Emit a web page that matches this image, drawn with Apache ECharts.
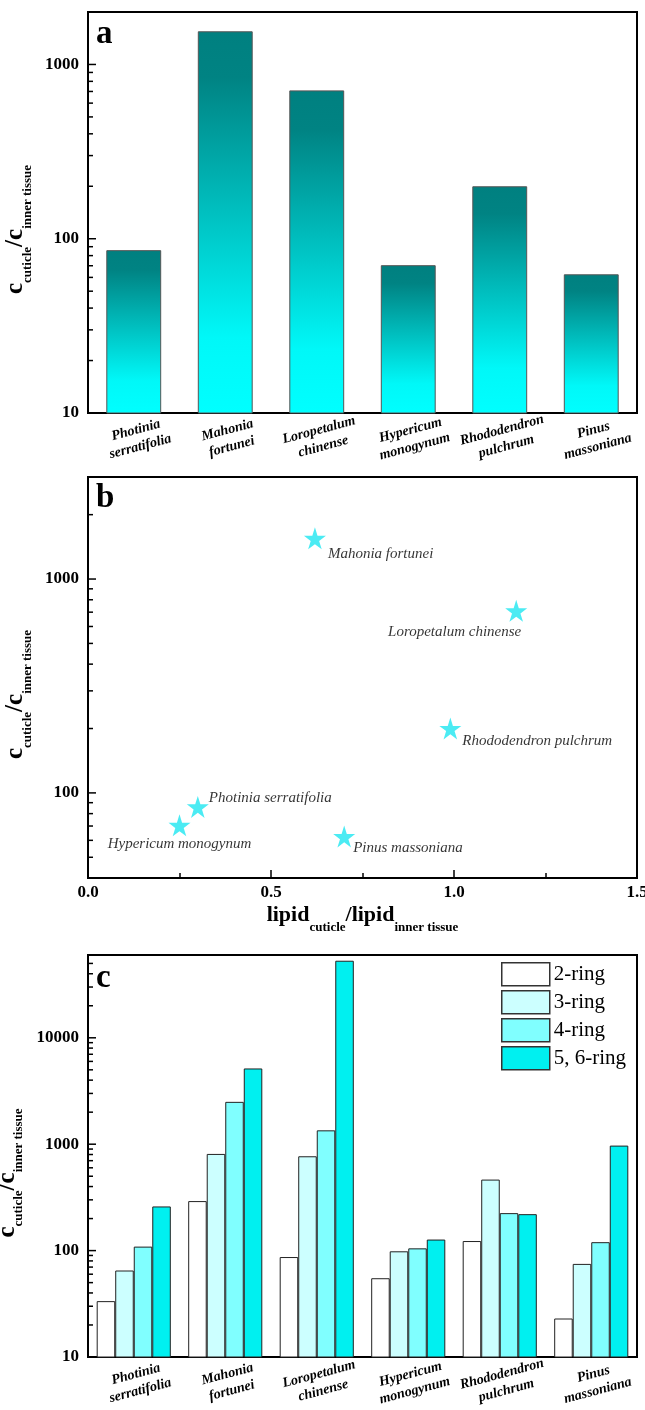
<!DOCTYPE html>
<html><head><meta charset="utf-8">
<script src="https://cdn.jsdelivr.net/npm/echarts@6/dist/echarts.min.js"></script>
<style>html,body{margin:0;padding:0;background:#fff}#c{width:645px;height:1410px}</style>
</head><body><div id="c"></div>
<script>
// ---------- data ----------
const species = ['Photinia serratifolia', 'Mahonia fortunei', 'Loropetalum chinense', 'Hypericum monogynum', 'Rhododendron pulchrum', 'Pinus massoniana'];
const categoryLabels = ['Photinia\nserratifolia', 'Mahonia\nfortunei', 'Loropetalum\nchinense', 'Hypericum\nmonogynum', 'Rhododendron\npulchrum', 'Pinus\nmassoniana'];
const ratioCuticleInner = [86, 1550, 710, 70.5, 200, 62.5];
const lipidRatio = [0.30, 0.62, 1.17, 0.25, 0.99, 0.70];
const ringNames = ['2-ring', '3-ring', '4-ring', '5, 6-ring'];
const ring2 = [33.5, 292, 87, 55, 123, 23];
const ring3 = [65, 810, 770, 98.5, 465, 75];
const ring4 = [109, 2500, 1350, 105, 225, 120];
const ring56 = [260, 5150, 53000, 127, 220, 970];
const majorTicksA = [10, 100, 1000];
const minorTicksA = [20, 30, 40, 50, 60, 70, 80, 90, 200, 300, 400, 500, 600, 700, 800, 900, 2000];
const majorTicksB = [100, 1000];
const minorTicksB = [50, 60, 70, 80, 90, 200, 300, 400, 500, 600, 700, 800, 900, 2000];
const majorTicksC = [10, 100, 1000, 10000];
const minorTicksC = [20, 30, 40, 50, 60, 70, 80, 90, 200, 300, 400, 500, 600, 700, 800, 900,
  2000, 3000, 4000, 5000, 6000, 7000, 8000, 9000, 20000, 30000, 40000, 50000];
const panelLetters = ['a', 'b', 'c'];

// ---------- style / layout ----------
const FONT = 'Liberation Serif';
const ringColors = ['#ffffff', '#ccffff', '#80ffff', '#00f0f0'];
const labelPlacement = [
  { align: 'left', offset: [11, -9] },
  { align: 'left', offset: [13, 16] },
  { align: 'right', offset: [5, 21] },
  { align: 'center', offset: [0, 19] },
  { align: 'left', offset: [12, 13] },
  { align: 'left', offset: [9, 12] }
];
const starPath = 'path://M50,0 L61.2,34.5 L97.6,34.5 L68.2,55.9 L79.4,90.5 L50,69.1 L20.6,90.5 L31.8,55.9 L2.4,34.5 L38.8,34.5 Z';

const powTen = v => { const l = Math.log10(v); return Math.abs(l - Math.round(l)) < 1e-6 ? String(Math.round(Math.pow(10, Math.round(l)))) : ''; };

const subRich = {
  m: { fontFamily: FONT, fontWeight: 'bold', fontSize: 25, lineHeight: 26, verticalAlign: 'top', color: '#000' },
  s: { fontFamily: FONT, fontWeight: 'bold', fontSize: 13, lineHeight: 13, padding: [18, 0, 0, 0], verticalAlign: 'top', color: '#000' }
};
const yName = '{m|c}{s|cuticle}{m|/c}{s|inner tissue}';

const gridBase = { left: 88, right: 8, show: true, borderColor: '#000', borderWidth: 2, backgroundColor: 'transparent', containLabel: false, outerBoundsMode: 'none' };

function yAxisCfg(idx, min, max, gap) {
  return {
    type: 'log', logBase: 10, gridIndex: idx, min: min, max: max,
    axisLine: { show: true, lineStyle: { color: '#000', width: 2 } },
    axisTick: { show: false }, splitLine: { show: false }, minorTick: { show: false },
    axisLabel: { formatter: powTen, fontFamily: FONT, fontWeight: 'bold', fontSize: 17, color: '#000', margin: 9 },
    name: yName, nameLocation: 'middle', nameGap: gap,
    nameTextStyle: { rich: subRich, padding: [0, 34, 0, 0] }
  };
}
function catAxisCfg(idx) {
  return {
    type: 'category', gridIndex: idx, data: categoryLabels,
    axisLine: { show: true, lineStyle: { color: '#000', width: 2 } },
    axisTick: { show: false },
    axisLabel: { interval: 0, rotate: 15, align: 'center', verticalAlign: 'top', margin: 9,
      fontFamily: FONT, fontStyle: 'italic', fontWeight: 'bold', fontSize: 14, lineHeight: 17, color: '#000' }
  };
}
function tickSeries(idx, values, len) {
  return {
    type: 'custom', xAxisIndex: idx, yAxisIndex: idx, silent: true, z: 5,
    data: values.map(v => [0, v]),
    renderItem: (params, api) => {
      const y = api.coord([api.value(0), api.value(1)])[1];
      const x0 = params.coordSys.x;
      return { type: 'line', shape: { x1: x0, y1: y, x2: x0 + len, y2: y }, style: { stroke: '#000', lineWidth: 1.5 } };
    }
  };
}

const chart = echarts.init(document.getElementById('c'), null, { renderer: 'canvas' });
chart.setOption({
  animation: false,
  backgroundColor: '#fff',
  graphic: [
    { type: 'text', left: 96, top: 18, style: { text: panelLetters[0], font: 'bold 33px "Liberation Serif"', fill: '#000' } },
    { type: 'text', left: 96, top: 482, style: { text: panelLetters[1], font: 'bold 33px "Liberation Serif"', fill: '#000' } },
    { type: 'text', left: 96, top: 962, style: { text: panelLetters[2], font: 'bold 33px "Liberation Serif"', fill: '#000' } }
  ],
  grid: [
    Object.assign({}, gridBase, { top: 12, height: 401 }),
    Object.assign({}, gridBase, { top: 477, height: 401 }),
    Object.assign({}, gridBase, { top: 955, height: 402 })
  ],
  legend: {
    data: ringNames, orient: 'vertical', left: 501, top: 962, padding: 0,
    itemWidth: 48, itemHeight: 23, itemGap: 3.5, icon: 'rect',
    itemStyle: { borderColor: '#333', borderWidth: 1.5 },
    textStyle: { fontFamily: FONT, fontSize: 21, color: '#000', padding: [0, 0, 0, -1] },
    selectedMode: false
  },
  xAxis: [
    catAxisCfg(0),
    {
      type: 'value', gridIndex: 1, min: 0, max: 1.5, interval: 0.5,
      axisLine: { show: true, lineStyle: { color: '#000', width: 2 } },
      axisTick: { show: true, inside: true, length: 8, lineStyle: { color: '#000', width: 1.5 } },
      minorTick: { show: true, splitNumber: 2, length: 5, lineStyle: { color: '#000', width: 1.5 } },
      splitLine: { show: false },
      axisLabel: { formatter: v => v.toFixed(1), fontFamily: FONT, fontWeight: 'bold', fontSize: 17, color: '#000', margin: 6 },
      name: '{m|lipid}{s|cuticle}{m|/lipid}{s|inner tissue}', nameLocation: 'middle', nameGap: 26,
      nameTextStyle: { rich: {
        m: { fontFamily: FONT, fontWeight: 'bold', fontSize: 22, lineHeight: 24, verticalAlign: 'top', color: '#000' },
        s: { fontFamily: FONT, fontWeight: 'bold', fontSize: 13, lineHeight: 13, padding: [17, 0, 0, 0], verticalAlign: 'top', color: '#000' }
      } }
    },
    catAxisCfg(2)
  ],
  yAxis: [
    yAxisCfg(0, 10, 2000, 49),
    yAxisCfg(1, 40, 3000, 49),
    yAxisCfg(2, 10, 60000, 57)
  ],
  series: [
    {
      type: 'bar', xAxisIndex: 0, yAxisIndex: 0, data: ratioCuticleInner, barCategoryGap: '40%',
      itemStyle: {
        color: new echarts.graphic.LinearGradient(0, 0, 0, 1, [
          { offset: 0, color: '#008080' }, { offset: 0.12, color: '#008383' },
          { offset: 0.8, color: '#00f8f8' }, { offset: 1, color: '#00ffff' }
        ]),
        borderColor: '#555', borderWidth: 1
      }
    },
    tickSeries(0, majorTicksA, 8),
    tickSeries(0, minorTicksA, 5),
    {
      type: 'scatter', xAxisIndex: 1, yAxisIndex: 1, symbol: starPath, symbolSize: 22,
      itemStyle: { color: '#1ee6f0' },
      data: lipidRatio.map((x, i) => ({
        value: [x, ratioCuticleInner[i]], name: species[i],
        label: { show: true, position: 'inside', verticalAlign: 'middle', align: labelPlacement[i].align, offset: labelPlacement[i].offset }
      })),
      label: { show: true, formatter: '{b}', fontFamily: FONT, fontStyle: 'italic', fontSize: 15, color: '#000' }
    },
    tickSeries(1, majorTicksB, 8),
    tickSeries(1, minorTicksB, 5),
    ...[ring2, ring3, ring4, ring56].map((d, k) => ({
      type: 'bar', name: ringNames[k], xAxisIndex: 2, yAxisIndex: 2, data: d,
      barGap: '0%', barCategoryGap: '19%',
      itemStyle: { color: ringColors[k], borderColor: '#222', borderWidth: 1 }
    })),
    tickSeries(2, majorTicksC, 8),
    tickSeries(2, minorTicksC, 5)
  ]
});
</script></body></html>
